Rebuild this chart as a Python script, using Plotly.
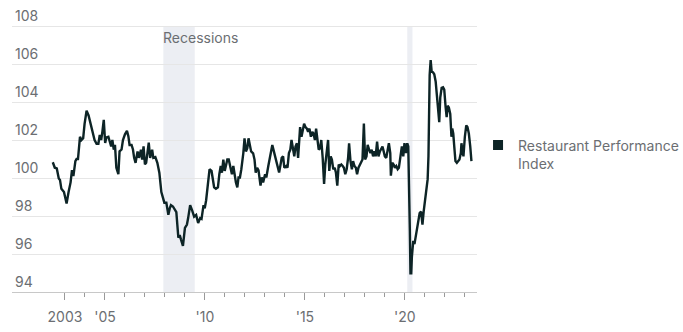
import plotly.graph_objects as go

# Restaurant Performance Index, x in decimal years
years = [
 2002.39,2002.49,2002.59,2002.69,2002.75,2002.82,2002.95,2003.08,2003.18,2003.28,2003.35,2003.42,2003.52,2003.58,2003.65,
 2003.75,2003.82,2003.91,2003.98,2004.08,2004.18,2004.28,2004.38,2004.48,2004.58,2004.67,2004.74,2004.81,2004.87,2004.94,
 2005.01,2005.07,2005.17,2005.24,2005.31,2005.37,2005.44,2005.50,2005.57,2005.67,2005.73,2005.83,2005.90,2006.00,2006.10,
 2006.17,2006.23,2006.33,2006.40,2006.46,2006.53,2006.63,2006.70,2006.80,2006.86,2006.93,2007.00,2007.06,2007.13,2007.19,
 2007.26,2007.36,2007.42,2007.52,2007.62,2007.72,2007.82,2007.92,2007.97,2008.07,2008.17,2008.24,2008.30,2008.40,2008.50,
 2008.57,2008.67,2008.74,2008.80,2008.90,2009.00,2009.10,2009.16,2009.26,2009.36,2009.46,2009.56,2009.66,2009.76,2009.83,
 2009.93,2009.99,2010.06,2010.16,2010.23,2010.33,2010.39,2010.46,2010.55,2010.65,2010.72,2010.79,2010.85,2010.92,2010.99,
 2011.05,2011.12,2011.19,2011.25,2011.35,2011.42,2011.49,2011.55,2011.62,2011.68,2011.75,2011.82,2011.92,2011.98,2012.05,
 2012.12,2012.18,2012.25,2012.31,2012.41,2012.48,2012.54,2012.61,2012.68,2012.78,2012.84,2012.91,2013.01,2013.07,2013.17,
 2013.27,2013.37,2013.47,2013.54,2013.64,2013.71,2013.77,2013.84,2013.91,2013.97,2014.07,2014.13,2014.20,2014.27,2014.33,
 2014.40,2014.47,2014.53,2014.60,2014.66,2014.73,2014.76,2014.83,2014.90,2014.96,2015.03,2015.10,2015.16,2015.23,2015.30,
 2015.37,2015.43,2015.50,2015.56,2015.62,2015.69,2015.76,2015.82,2015.89,2015.96,2016.02,2016.09,2016.16,2016.22,2016.29,
 2016.35,2016.42,2016.49,2016.55,2016.62,2016.69,2016.75,2016.82,2016.89,2016.95,2017.02,2017.09,2017.16,2017.21,2017.28,
 2017.35,2017.41,2017.48,2017.55,2017.61,2017.68,2017.75,2017.81,2017.88,2017.95,2018.01,2018.08,2018.14,2018.21,2018.28,
 2018.34,2018.41,2018.48,2018.54,2018.61,2018.68,2018.75,2018.81,2018.88,2018.94,2019.00,2019.07,2019.14,2019.20,2019.27,
 2019.30,2019.37,2019.44,2019.50,2019.57,2019.64,2019.70,2019.78,2019.85,2019.92,2019.98,2020.05,2020.12,2020.17,2020.22,
 2020.25,2020.28,2020.32,2020.35,2020.42,2020.48,2020.55,2020.61,2020.68,2020.74,2020.81,2020.88,2020.94,2021.01,2021.08,
 2021.14,2021.18,2021.21,2021.24,2021.29,2021.34,2021.41,2021.47,2021.54,2021.61,2021.67,2021.72,2021.77,2021.84,2021.91,
 2021.97,2022.04,2022.09,2022.14,2022.20,2022.27,2022.30,2022.33,2022.37,2022.42,2022.47,2022.53,2022.60,2022.67,2022.73,
 2022.80,2022.83,2022.87,2022.93,2023.00,2023.07,2023.13,2023.20,2023.27,2023.33,
]
rpi_values = [
 100.83,100.54,100.50,99.98,99.90,99.43,99.26,98.66,99.26,99.77,100.42,100.10,100.89,101.00,101.00,
 102.17,102.00,102.10,102.85,103.54,103.29,102.85,102.34,102.00,101.80,101.80,102.26,102.00,102.43,103.06,
 101.84,102.14,102.17,101.90,101.66,102.00,101.49,101.75,100.54,100.20,101.40,101.50,102.00,102.30,102.48,
 102.20,101.74,101.74,101.50,101.06,100.80,101.40,101.06,101.49,100.97,101.66,100.72,100.80,101.40,101.86,
 101.06,101.49,101.06,101.10,100.80,100.28,99.26,98.78,98.70,98.70,98.06,98.40,98.57,98.50,98.30,
 98.20,96.86,97.00,96.77,96.43,97.38,97.55,97.89,98.57,98.30,97.97,98.06,97.63,97.89,97.85,
 98.57,98.40,98.83,99.77,100.46,100.37,99.86,99.51,99.43,99.51,100.20,100.63,100.28,100.97,100.37,
 100.63,100.97,100.97,100.71,100.20,100.63,100.03,99.77,99.51,100.03,100.03,100.46,101.31,102.09,101.40,
 101.57,102.09,101.66,101.40,101.30,100.97,100.28,100.54,100.40,99.60,100.03,99.77,100.20,100.03,100.63,
 101.14,101.74,101.31,100.97,100.46,100.29,100.63,101.06,101.14,100.54,100.63,100.54,101.31,101.49,102.00,
 101.66,101.14,101.66,101.83,101.06,101.91,102.68,102.17,102.68,102.86,102.68,102.60,102.43,102.60,102.17,
 102.43,102.34,102.00,102.60,101.91,101.49,101.57,102.00,101.06,99.69,100.71,101.40,102.00,100.37,101.14,
 100.97,100.46,100.54,100.29,99.60,100.71,100.63,100.71,100.63,100.54,100.20,100.46,101.06,101.83,100.89,
 100.46,100.89,100.63,100.54,100.20,100.54,100.71,100.80,100.97,102.86,100.97,101.14,101.74,101.49,101.31,
 101.49,101.14,101.40,101.14,101.91,101.14,101.40,101.49,101.66,101.40,101.14,101.06,101.49,101.83,101.31,
 100.12,100.80,100.71,100.54,100.63,100.46,100.54,101.14,101.66,101.14,101.83,101.31,101.83,101.66,99.60,
 97.20,94.98,94.98,95.83,96.69,96.52,97.03,97.46,97.89,98.15,98.23,97.55,98.23,98.75,99.26,
 99.94,101.14,103.37,105.42,106.20,105.60,105.56,105.46,105.08,104.05,103.37,102.94,104.23,104.74,104.77,
 104.65,103.71,103.20,103.80,103.71,103.37,102.51,102.17,102.60,102.34,101.66,100.89,100.80,100.89,100.97,
 101.31,101.83,101.49,101.14,102.17,102.77,102.68,102.34,101.66,100.89,
]

recession_starts = [2007.92, 2020.12]
recession_ends = [2009.49, 2020.38]

x_tickvals = [2003, 2005, 2010, 2015, 2020]
x_ticktext = ["2003", "'05", "'10", "'15", "'20"]
minor_tickvals = list(range(2003, 2024))
y_tickvals = list(range(94, 109, 2))
y_min, y_max = 94, 108

LINE = "#0d2426"
TEXT = "#6b6e72"
FONT = "Inter"

fig = go.Figure()
fig.add_trace(go.Scatter(x=years, y=rpi_values, mode="lines",
                         line=dict(color=LINE, width=2.4), showlegend=False,
                         hoverinfo="skip"))
fig.add_trace(go.Scatter(x=[None], y=[None], mode="markers",
                         marker=dict(symbol="square", size=10, color=LINE),
                         name="Restaurant Performance<br>Index"))

for s, e in zip(recession_starts, recession_ends):
    fig.add_shape(type="rect", x0=s, x1=e, y0=y_min, y1=y_max, xref="x", yref="y",
                  fillcolor="#eceef3", line_width=0, layer="below")

fig.add_annotation(x=recession_starts[0], y=107.4, xref="x", yref="y",
                   text="Recessions", showarrow=False, xanchor="left", yanchor="middle",
                   xshift=-2, font=dict(family=FONT, size=14, color=TEXT))

fig.update_layout(
    width=683, height=332,
    margin=dict(l=12, r=203, t=7, b=33),
    paper_bgcolor="white", plot_bgcolor="white",
    font=dict(family=FONT, size=14, color=TEXT),
    legend=dict(xref="container", yref="container", x=0.7087, y=0.61,
                xanchor="left", yanchor="top", valign="top",
                itemwidth=30, indentation=-6,
                font=dict(family=FONT, size=14, color=TEXT),
                bgcolor="rgba(0,0,0,0)"),
    xaxis=dict(range=[2000.35, 2023.61], tickvals=x_tickvals, ticktext=x_ticktext,
               ticks="outside", ticklen=7, tickcolor="#9a9a9a", tickwidth=1,
               ticklabelstandoff=5,
               showline=True, linecolor="#c8c8c8", linewidth=1,
               showgrid=False, zeroline=False,
               minor=dict(tickvals=minor_tickvals, ticks="outside", ticklen=4,
                          tickcolor="#9a9a9a", showgrid=False),
               tickfont=dict(family=FONT, size=14, color=TEXT)),
    yaxis=dict(range=[y_min, 109], tickvals=y_tickvals, ticks="",
               ticklabelposition="inside top", showgrid=True, gridcolor="#e6e6e6",
               gridwidth=1, zeroline=False, showline=False,
               tickfont=dict(family=FONT, size=14, color=TEXT)),
)

fig.write_html("out.html")
